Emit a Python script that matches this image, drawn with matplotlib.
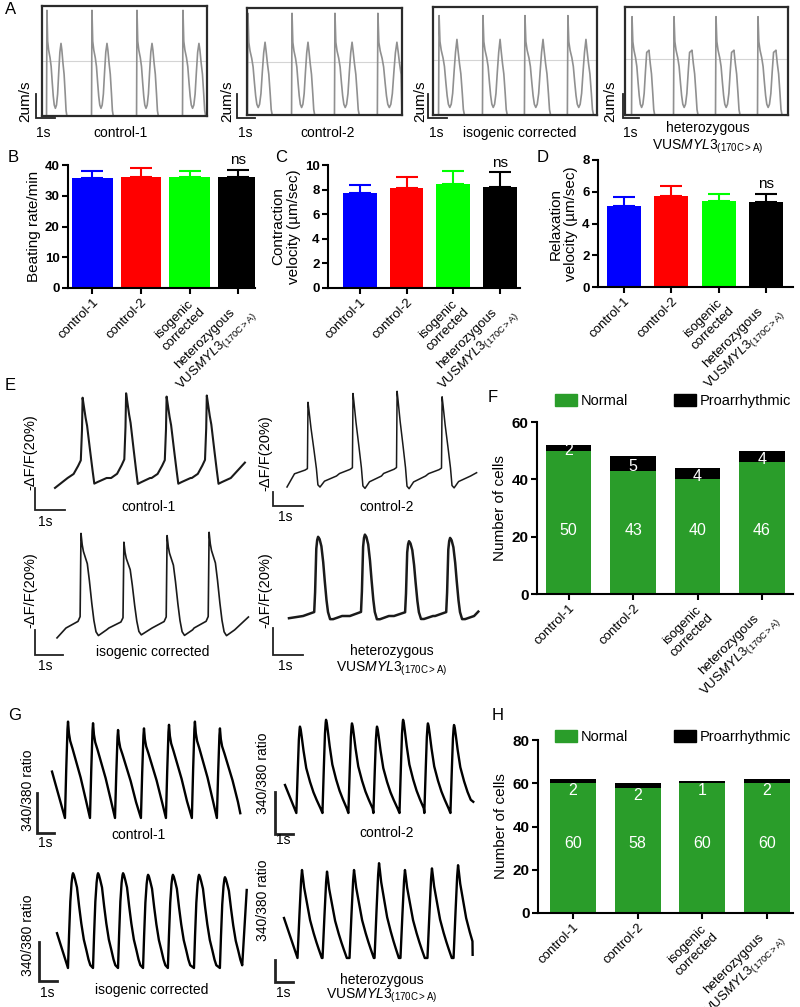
import numpy as np
import matplotlib
matplotlib.use("Agg")
import matplotlib.pyplot as plt
from matplotlib.lines import Line2D
from matplotlib.patches import Patch

plt.rcParams["font.family"] = ["Liberation Sans", "DejaVu Sans"]
plt.rcParams["mathtext.fontset"] = "custom"
plt.rcParams["mathtext.rm"] = "Liberation Sans"
plt.rcParams["mathtext.it"] = "Liberation Sans:italic"
plt.rcParams["mathtext.bf"] = "Liberation Sans:bold"

W, H = 800, 1007

VUS = "VUS$\\mathit{MYL3}_{\\mathrm{(170C{>}A)}}$"
groups = ["control-1", "control-2", "isogenic\ncorrected", "heterozygous\n" + VUS]
trace_names = ["control-1", "control-2", "isogenic corrected", "heterozygous\n" + VUS]
bar_colors = ["#0000ff", "#ff0000", "#00ff00", "#000000"]
green = "#2a9d2a"

# ---- A: contraction velocity traces (time in s, amplitude relative to box)
a_spike_t = [[0.26, 2.63, 5.0, 7.42], [0.05, 2.37, 4.63, 6.89],
             [0.32, 2.63, 4.84, 7.1], [0.37, 2.58, 4.79, 7.0]]
a_second_t = [[1.0, 3.42, 5.79, 8.26], [0.95, 3.21, 5.53, 7.89],
              [1.26, 3.53, 5.79, 8.05], [1.21, 3.47, 5.68, 7.89]]
a_spike_h = [0.96, 0.95, 0.92, 0.91]
a_second_h = [0.66, 0.68, 0.70, 0.59]
a_ref = [0.5, 0.5, 0.51, 0.52]
a_shape_pos = [-0.03, 0.0, 0.05, 0.12, 0.22, 0.3, 0.38, 0.45, 0.52, 0.6, 0.68, 0.76,
               0.84, 0.92, 1.0, 1.06, 1.14, 1.22, 1.3, 1.36, 1.42]
a_shape_val = [0, "S", 0.68, 0.6, 0.53, 0.45, 0.3, 0.18, 0.1, 0.07, 0.1, 0.2,
               0.4, 0.58, "P", 0.6, 0.48, 0.38, 0.2, 0.05, 0]

# ---- B, C, D: mean +/- error
beat_mean = [35.7, 36.2, 36.2, 36.0]
beat_err = [2.5, 2.7, 2.0, 2.4]
contr_mean = [7.76, 8.1, 8.46, 8.19]
contr_err = [0.62, 0.9, 1.04, 1.24]
relax_mean = [5.13, 5.74, 5.42, 5.38]
relax_err = [0.52, 0.65, 0.42, 0.5]

# ---- E: -dF/F traces (time in s, value in %)
e_start = [(0, -9), (0, -10), (0, -9), (0, -2)]
e_end = [(6.33, 14), (6.32, 3), (6.38, 10), (6.31, 4)]
e_peak_t = [[0.92, 2.37, 3.72, 5.06], [0.7, 2.2, 3.67, 5.17],
            [0.8, 2.23, 3.67, 5.07], [0.97, 2.53, 4.0, 5.37]]
e_peak_v = [[73, 77, 74, 75], [67, 75, 77, 72], [86, 78, 84, 87], [72, 74, 68, 71]]
e_off = [[-0.5, -0.3, -0.15, -0.06, -0.02, 0, 0.04, 0.1, 0.15, 0.25, 0.33, 0.39, 0.5, 0.8],
         [-0.45, -0.1, -0.02, 0, 0.03, 0.1, 0.2, 0.28, 0.33, 0.4, 0.55, 0.95],
         [-0.5, -0.1, -0.03, 0, 0.04, 0.08, 0.15, 0.21, 0.28, 0.36, 0.43, 0.5, 0.58, 0.85],
         [-0.5, -0.13, -0.1, -0.06, -0.03, 0, 0.05, 0.11, 0.17, 0.22, 0.28, 0.33, 0.4, 0.5, 0.8]]
e_frac = [[0.0, 0.05, 0.15, 0.22, 0.6, 1.0, 0.9, 0.75, 0.65, 0.34, 0.1, -0.07, -0.05, 0.0],
          [0.03, 0.08, 0.1, 1.0, 0.9, 0.65, 0.35, 0.1, -0.12, -0.15, -0.07, 0.0],
          [0.0, 0.07, 0.12, 1.0, 0.88, 0.81, 0.74, 0.68, 0.5, 0.26, 0.08, -0.04, -0.08, -0.02],
          [0.0, 0.05, 0.3, 0.85, 0.96, 1.0, 0.97, 0.88, 0.68, 0.45, 0.2, 0.05, -0.04, -0.04, 0.0]]

# ---- F: cell counts
f_normal = [50, 43, 40, 46]
f_pro = [2, 5, 4, 4]

# ---- G: 340/380 ratio traces (time in s, ratio above trough)
g_start = [(0, 0.116), (0, 0.07), (0, 0.087), (0, 0.1)]
g_end = [(10.46, 0.012), (10.46, 0.028), (10.54, 0.195), (10.48, 0.008)]
g_peak_t = [[0.89, 2.28, 3.67, 5.11, 6.5, 7.94, 9.33],
            [0.83, 2.28, 3.72, 5.11, 6.56, 7.94, 9.39],
            [0.89, 2.28, 3.67, 5.06, 6.44, 7.89, 9.33],
            [1.0, 2.39, 3.89, 5.28, 6.72, 8.22, 9.67]]
g_peak_v = [[0.241, 0.237, 0.22, 0.224, 0.233, 0.241, 0.224],
            [0.216, 0.233, 0.224, 0.216, 0.233, 0.224, 0.22],
            [0.237, 0.237, 0.237, 0.233, 0.233, 0.233, 0.227],
            [0.22, 0.216, 0.22, 0.237, 0.22, 0.224, 0.232]]
g_off = [[-0.17, -0.1, -0.03, 0, 0.05, 0.12, 0.25, 0.4, 0.55, 0.7, 0.85, 1.0],
         [-0.2, -0.12, -0.06, -0.02, 0, 0.04, 0.1, 0.2, 0.35, 0.56, 0.75, 0.93, 1.15],
         [-0.28, -0.22, -0.15, -0.08, -0.03, 0, 0.05, 0.12, 0.22, 0.34, 0.46, 0.6, 0.74, 0.86, 0.96],
         [-0.25, -0.14, -0.05, 0, 0.05, 0.12, 0.28, 0.45, 0.65, 0.8, 0.93, 1.1]]
g_frac = [[0.0, 0.5, 0.92, 1.0, 0.88, 0.8, 0.72, 0.62, 0.52, 0.42, 0.3, 0.18],
          [0.0, 0.5, 0.85, 0.97, 1.0, 0.97, 0.88, 0.72, 0.52, 0.36, 0.24, 0.15, 0.05],
          [0.0, 0.35, 0.7, 0.9, 0.98, 1.0, 0.98, 0.93, 0.85, 0.65, 0.47, 0.3, 0.19, 0.09, 0.03],
          [0.0, 0.5, 0.88, 1.0, 0.92, 0.8, 0.62, 0.43, 0.28, 0.18, 0.1, 0.0]]

# ---- H: cell counts
h_normal = [60, 58, 60, 60]
h_pro = [2, 2, 1, 2]

fig = plt.figure(figsize=(8, 10.07), dpi=100)


def px_rect(x0, y0, x1, y1):
    return [x0 / W, 1 - y1 / H, (x1 - x0) / W, (y1 - y0) / H]


def ftext(x, y, s, **kw):
    kw.setdefault("ha", "center")
    kw.setdefault("va", "center")
    fig.text(x / W, 1 - y / H, s, **kw)


def scale_bar(x, ytop, ybot, xright, lw=1.3):
    fig.add_artist(Line2D([x / W, x / W, xright / W],
                          [1 - ytop / H, 1 - ybot / H, 1 - ybot / H],
                          lw=lw, color="#222222", solid_joinstyle="miter"))


def build_trace(start, end, peaks, heights, offs, fracs):
    t, v = [start[0]], [start[1]]
    for p, h in zip(peaks, heights):
        for o, f in zip(offs, fracs):
            if start[0] < p + o < end[0]:
                t.append(p + o)
                v.append(f * h)
    t.append(end[0])
    v.append(end[1])
    return t, v


def trace_axes(t, v, x0, base, sx, sy, **kw):
    ax = fig.add_axes(px_rect(x0 + min(t) * sx, base - max(v) * sy,
                              x0 + max(t) * sx, base - min(v) * sy))
    ax.plot(t, v, clip_on=False, solid_joinstyle="round", **kw)
    ax.set_xlim(min(t), max(t))
    ax.set_ylim(min(v), max(v))
    ax.axis("off")
    return ax


def style_axes(ax, ymax, yticks, xlim, tick_size, label_size):
    for s in ["top", "right"]:
        ax.spines[s].set_visible(False)
    for s in ["left", "bottom"]:
        ax.spines[s].set_linewidth(1.5)
    ax.set_ylim(0, ymax)
    ax.set_xlim(*xlim)
    ax.set_yticks(yticks)
    ax.set_xticks(range(4))
    ax.set_xticklabels(groups, rotation=45, ha="right", rotation_mode="anchor",
                       fontsize=label_size, multialignment="center")
    ax.tick_params(width=1.5, length=4, labelsize=tick_size, pad=2)
    ax.tick_params(axis="x", labelsize=label_size)
    for lbl in ax.get_yticklabels():
        lbl.set_fontweight("bold")


# ================= A =================
ftext(5, 10, "A", fontsize=12, ha="left")
a_boxes = [(42, 6, 207, 116), (247, 8, 402, 115), (433, 7, 597, 115), (625, 7, 788, 115)]
a_bars = [(36, 55), (237, 255), (428, 447), (623, 639)]
a_ylab_x = [25, 227, 420, 610]
a_1s_x = [43, 245, 436, 630]
a_name_x = [120, 328, 520, 708]
for i, (x0, y0, x1, y1) in enumerate(a_boxes):
    width = (x1 - x0) / 19.0
    t, v = [0], [0]
    for ts, t2 in zip(a_spike_t[i], a_second_t[i]):
        d = t2 - ts
        for p, val in zip(a_shape_pos, a_shape_val):
            tt = ts + p * d
            vv = a_spike_h[i] if val == "S" else a_second_h[i] if val == "P" else val
            if 0 < tt < width:
                t.append(tt)
                v.append(vv)
    t.append(width)
    v.append(0)
    ax = fig.add_axes(px_rect(x0, y0, x1, y1))
    ax.axhline(a_ref[i], color="#d4d4d4", lw=0.8, zorder=0)
    ax.plot(t, v, color="#909090", lw=1.2, solid_joinstyle="round")
    ax.set_xlim(0, width)
    ax.set_ylim(0, 1)
    ax.set_xticks([])
    ax.set_yticks([])
    for s in ax.spines.values():
        s.set_linewidth(1.6)
        s.set_color("#2b2b2b")
    bx, bx2 = a_bars[i]
    scale_bar(bx, 94, 118, bx2)
    ftext(a_ylab_x[i], 101, "2um/s", rotation=90, fontsize=11)
    ftext(a_1s_x[i], 133, "1s", fontsize=10)
    if i < 3:
        ftext(a_name_x[i], 133, trace_names[i], fontsize=10)
    else:
        ftext(a_name_x[i], 128, "heterozygous", fontsize=10)
        ftext(a_name_x[i], 147, VUS, fontsize=10)

# ================= B, C, D =================
bar_specs = [
    ("B", (8, 158), (68, 165, 255, 288), beat_mean, beat_err, 40, [0, 10, 20, 30, 40],
     "Beating rate/min", (-0.505, 3.35), 0.84),
    ("C", (275, 158), (328, 165, 520, 288), contr_mean, contr_err, 10, [0, 2, 4, 6, 8, 10],
     "Contraction\nvelocity (\u00b5m/sec)", (-0.685, 3.43), 0.72),
    ("D", (537, 158), (598, 160, 793, 287), relax_mean, relax_err, 8, [0, 2, 4, 6, 8],
     "Relaxation\nvelocity (\u00b5m/sec)", (-0.55, 3.57), 0.72),
]
for letter, lxy, rect, means, errs, ymax, yticks, ylabel, xlim, bw in bar_specs:
    ftext(lxy[0], lxy[1], letter, fontsize=12, ha="left")
    ax = fig.add_axes(px_rect(*rect))
    x = np.arange(4)
    ax.bar(x, means, width=bw, color=bar_colors, zorder=2)
    for i in range(4):
        ax.errorbar(x[i], means[i], yerr=[[0], [errs[i]]], fmt="none",
                    ecolor=bar_colors[i], elinewidth=1.5, capsize=8, capthick=1.5, zorder=1)
    ax.text(3, means[3] + errs[3] + ymax * 0.02, "ns", ha="center", va="bottom", fontsize=11)
    style_axes(ax, ymax, yticks, xlim, 9.5, 9.5)
    ax.set_ylabel(ylabel, fontsize=11, labelpad=3, linespacing=1.1)

# ================= E =================
ftext(5, 385, "E", fontsize=12, ha="left")
e_pos = [(55, 478), (287, 476), (57, 628), (289, 616)]
e_lw = [1.5, 1.1, 1.2, 1.8]
for i in range(4):
    t, v = build_trace(e_start[i], e_end[i], e_peak_t[i], e_peak_v[i], e_off[i], e_frac[i])
    trace_axes(t, v, e_pos[i][0], e_pos[i][1], 30, 1.1, color="#1a1a1a", lw=e_lw[i])
e_bars = [(35, 488, 510, 65), (273, 492, 506, 303), (35, 630, 655, 63), (273, 628, 655, 303)]
e_ylab = [(30, 452), (265, 453), (30, 590), (265, 590)]
e_1s = [(45, 522), (285, 517), (45, 666), (285, 666)]
e_name = [(148, 507), (387, 507), (153, 652), (392, 651)]
for i in range(4):
    scale_bar(*e_bars[i])
    ftext(*e_ylab[i], "-\u0394F/F(20%)", rotation=90, fontsize=10.5)
    ftext(*e_1s[i], "1s", fontsize=10)
    if i < 3:
        ftext(*e_name[i], trace_names[i], fontsize=10)
    else:
        ftext(e_name[i][0], e_name[i][1], "heterozygous", fontsize=10)
        ftext(e_name[i][0], e_name[i][1] + 18, VUS, fontsize=10)

# ================= G =================
ftext(8, 716, "G", fontsize=12, ha="left")
g_pos = [(52, 818), (285, 813), (57, 968), (284, 958)]
for i in range(4):
    t, v = build_trace(g_start[i], g_end[i], g_peak_t[i], g_peak_v[i], g_off[i], g_frac[i])
    trace_axes(t, v, g_pos[i][0], g_pos[i][1], 18, 400, color="black", lw=1.7)
g_bars = [(37, 793, 833, 54), (275, 792, 834, 293), (39, 942, 981, 57), (275, 960, 982, 293)]
g_ylab = [(28, 790), (263, 773), (28, 935), (263, 900)]
g_1s = [(45, 843), (283, 840), (47, 993), (283, 993)]
g_name = [(138, 835), (387, 833), (152, 990), (382, 980)]
for i in range(4):
    scale_bar(*g_bars[i], lw=2)
    ftext(*g_ylab[i], "340/380 ratio", rotation=90, fontsize=10)
    ftext(*g_1s[i], "1s", fontsize=10)
    if i < 3:
        ftext(*g_name[i], trace_names[i], fontsize=10)
    else:
        ftext(g_name[i][0], g_name[i][1], "heterozygous", fontsize=10)
        ftext(g_name[i][0], g_name[i][1] + 16, VUS, fontsize=10)

# ================= F, H =================
stack_specs = [
    ("F", (488, 397), (537, 422, 793, 594), f_normal, f_pro, 60, [0, 20, 40, 60],
     (-0.49, 3.48), 22, 401, "F"),
    ("H", (492, 716), (538, 740, 793, 913), h_normal, h_pro, 80, [0, 20, 40, 60, 80],
     (-0.54, 3.4), 32, 737, "H"),
]
for letter, lxy, rect, normal, pro, ymax, yticks, xlim, nl_y, leg_y, kind in stack_specs:
    ftext(lxy[0], lxy[1], letter, fontsize=12, ha="left")
    ax = fig.add_axes(px_rect(*rect))
    x = np.arange(4)
    ax.bar(x, normal, width=0.71, color=green)
    ax.bar(x, pro, width=0.71, bottom=normal, color="black")
    for i in range(4):
        ax.text(x[i], nl_y, str(normal[i]), color="white", ha="center", va="center", fontsize=11.5)
        if kind == "F":
            py = normal[i] + pro[i] * 0.5 - 1
        else:
            py = normal[i] - 3.5
        ax.text(x[i], py, str(pro[i]), color="white", ha="center", va="center", fontsize=11.5)
    style_axes(ax, ymax, yticks, xlim, 11, 9.5)
    ax.set_ylabel("Number of cells", fontsize=11, labelpad=3)
    handles = [Patch(color=green), Patch(color="black")]
    fig.legend(handles, ["Normal", "Proarrhythmic"], ncol=2, frameon=False,
               loc="center left", bbox_to_anchor=(555 / W, 1 - leg_y / H),
               borderpad=0, borderaxespad=0, handlelength=1.5, handleheight=0.85,
               handletextpad=0.3, columnspacing=3.1, fontsize=10.5)

fig.savefig("out.png", dpi=100)
